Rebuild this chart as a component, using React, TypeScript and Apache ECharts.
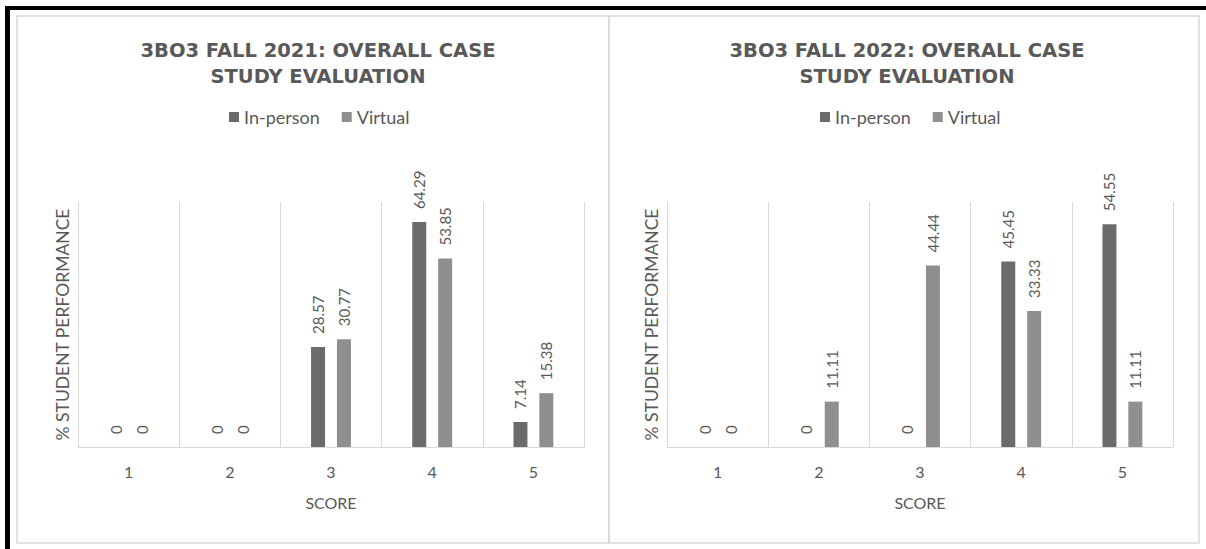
import React, { useEffect, useRef } from "react";
import * as echarts from "echarts";

// Score buckets on the x axis
const scores = ["1", "2", "3", "4", "5"];
const seriesNames = ["In-person", "Virtual"];

// Fall 2021: % of students per score
const inPerson2021 = [0, 0, 28.57, 64.29, 7.14];
const virtual2021 = [0, 0, 30.77, 53.85, 15.38];

// Fall 2022: % of students per score
const inPerson2022 = [0, 0, 0, 45.45, 54.55];
const virtual2022 = [0, 11.11, 44.44, 33.33, 11.11];

const titles = [
  "3BO3 FALL 2021: OVERALL CASE\nSTUDY EVALUATION",
  "3BO3 FALL 2022: OVERALL CASE\nSTUDY EVALUATION",
];
const yMax = [70, 60];

const TEXT = "#595959";
const GRID_LINE = "#d9d9d9";
const DARK = "#6b6b6b";
const LIGHT = "#8f8f8f";
const FONT = "Lato, 'Open Sans', sans-serif";
const TITLE_FONT = "'DejaVu Sans', Lato, sans-serif";

export default function App() {
  const ref = useRef<HTMLDivElement>(null);

  useEffect(() => {
    document.body.style.margin = "0";
    if (!ref.current) return;
    const chart = echarts.init(ref.current, undefined, { renderer: "svg" });

    const panels = [
      { left: 17, width: 592, center: 313, legendLeft: 224, gridLeft: 78 },
      { left: 609, width: 590, center: 902, legendLeft: 815, gridLeft: 667 },
    ];
    const gridWidth = 506;

    const barLabel = {
      show: true,
      position: "top",
      rotate: 90,
      align: "left",
      verticalAlign: "middle",
      distance: 13,
      fontSize: 15,
      fontFamily: FONT,
      color: TEXT,
    };

    const data = [
      [inPerson2021, virtual2021],
      [inPerson2022, virtual2022],
    ];

    const option: any = {
      animation: false,
      backgroundColor: "#ffffff",
      textStyle: { fontFamily: FONT },
      title: panels.map((p, i) => ({
        text: titles[i],
        left: p.center,
        top: 32,
        textAlign: "center",
        textStyle: {
          fontFamily: TITLE_FONT,
          fontWeight: "bold",
          fontSize: 19.5,
          lineHeight: 26,
          color: TEXT,
        },
      })),
      legend: panels.map((p) => ({
        data: seriesNames,
        left: p.legendLeft,
        top: 103,
        icon: "rect",
        itemWidth: 10,
        itemHeight: 10,
        itemGap: 22,
        textStyle: { fontFamily: FONT, fontSize: 18, color: TEXT },
        selectedMode: false,
      })),
      grid: panels.map((p) => ({
        left: p.gridLeft,
        width: gridWidth,
        top: 202,
        height: 245,
      })),
      xAxis: panels.map((_, i) => ({
        type: "category",
        gridIndex: i,
        data: scores,
        axisLine: { lineStyle: { color: GRID_LINE, width: 1 } },
        axisTick: { show: false },
        splitLine: { show: true, lineStyle: { color: GRID_LINE, width: 1 } },
        axisLabel: { color: TEXT, fontSize: 16, fontFamily: FONT, margin: 16 },
        name: "SCORE",
        nameLocation: "middle",
        nameGap: 47,
        nameTextStyle: { color: TEXT, fontSize: 16, fontFamily: FONT },
      })),
      yAxis: panels.map((_, i) => ({
        type: "value",
        gridIndex: i,
        min: 0,
        max: yMax[i],
        axisLine: { show: false },
        axisTick: { show: false },
        axisLabel: { show: false },
        splitLine: { show: false },
        name: "% STUDENT PERFORMANCE",
        nameLocation: "middle",
        nameGap: 7,
        nameTextStyle: { color: TEXT, fontSize: 17.5, fontFamily: FONT },
      })),
      series: data.flatMap((pair, i) =>
        pair.map((values, j) => ({
          type: "bar",
          name: seriesNames[j],
          xAxisIndex: i,
          yAxisIndex: i,
          data: values,
          barWidth: 14,
          barGap: "85%",
          itemStyle: { color: j === 0 ? DARK : LIGHT },
          label: barLabel,
        }))
      ),
      graphic: [
        ...panels.map((p) => ({
          type: "rect",
          shape: { x: p.left, y: 16, width: p.width, height: 527 },
          style: { fill: "none", stroke: GRID_LINE, lineWidth: 1.5 },
          silent: true,
        })),
        {
          type: "rect",
          shape: { x: 5, y: 6, width: 1201, height: 4 },
          style: { fill: "#000" },
          silent: true,
        },
        {
          type: "rect",
          shape: { x: 5, y: 6, width: 5, height: 543 },
          style: { fill: "#000" },
          silent: true,
        },
      ],
    };

    chart.setOption(option);
    return () => chart.dispose();
  }, []);

  return <div ref={ref} style={{ width: 1206, height: 549 }} />;
}
